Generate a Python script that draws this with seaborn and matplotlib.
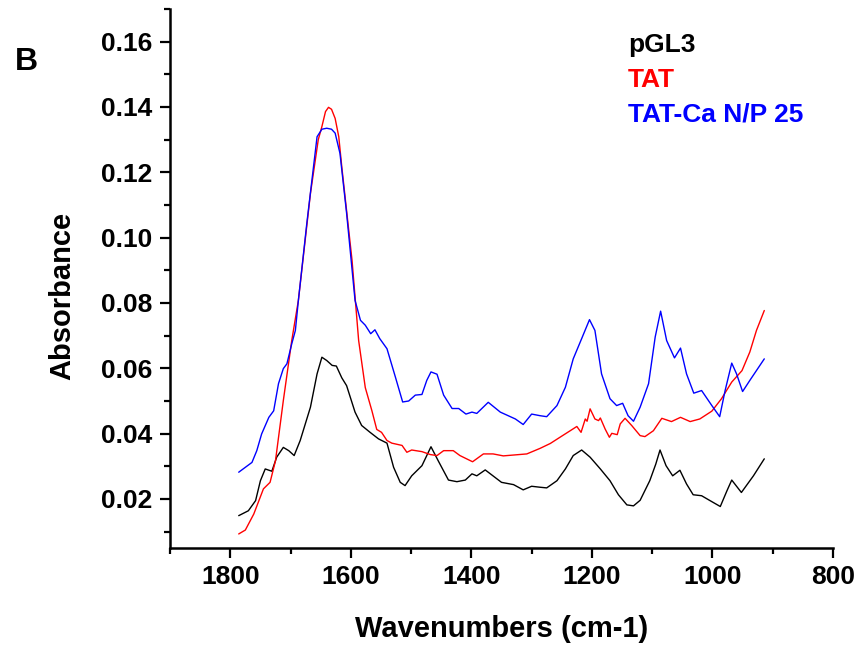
import matplotlib
matplotlib.use("Agg")
import matplotlib.pyplot as plt
from matplotlib.ticker import MultipleLocator, FormatStrFormatter
import seaborn as sns
import pandas as pd

# FTIR absorbance spectra (wavenumber in cm-1, absorbance)
pgl3_wn = [1786, 1770, 1758, 1750, 1742, 1731, 1723, 1712, 1703, 1694, 1684, 1667, 1656,
           1648, 1640, 1631, 1624, 1615, 1607, 1593, 1582, 1568, 1554, 1540, 1529, 1518,
           1510, 1499, 1482, 1467, 1455, 1438, 1424, 1410, 1399, 1391, 1377, 1350, 1330,
           1314, 1300, 1286, 1275, 1258, 1244, 1231, 1217, 1203, 1186, 1170, 1156, 1142,
           1131, 1120, 1104, 1094, 1087, 1077, 1066, 1054, 1043, 1032, 1018, 1004, 987,
           976, 968, 952, 932, 914]
pgl3_abs = [0.0149, 0.0164, 0.0195, 0.0256, 0.0292, 0.0285, 0.0328, 0.0358, 0.0348, 0.0333,
            0.0379, 0.0481, 0.0583, 0.0634, 0.0624, 0.0609, 0.0607, 0.0571, 0.0547, 0.0466,
            0.0425, 0.0404, 0.0384, 0.0371, 0.0297, 0.0251, 0.0241, 0.0271, 0.0302, 0.0360,
            0.0317, 0.0258, 0.0253, 0.0258, 0.0277, 0.0271, 0.0289, 0.0251, 0.0244, 0.0228,
            0.0239, 0.0236, 0.0234, 0.0256, 0.0292, 0.0333, 0.0350, 0.0328, 0.0292, 0.0256,
            0.0213, 0.0182, 0.0179, 0.0196, 0.0256, 0.0307, 0.0350, 0.0302, 0.0271, 0.0288,
            0.0246, 0.0213, 0.0210, 0.0195, 0.0177, 0.0225, 0.0258, 0.0220, 0.0271, 0.0323]

tat_wn = [1786, 1775, 1761, 1745, 1734, 1725, 1712, 1698, 1687, 1667, 1654, 1648, 1642,
          1637, 1632, 1626, 1620, 1615, 1598, 1587, 1576, 1565, 1557, 1549, 1540, 1532,
          1515, 1507, 1499, 1482, 1468, 1457, 1446, 1430, 1419, 1398, 1380, 1364, 1347,
          1308, 1286, 1269, 1253, 1236, 1225, 1218, 1211, 1208, 1203, 1195, 1189, 1186,
          1178, 1171, 1167, 1158, 1153, 1145, 1134, 1120, 1112, 1098, 1084, 1068, 1053,
          1037, 1021, 1001, 985, 968, 951, 938, 927, 914]
tat_abs = [0.0093, 0.0105, 0.0154, 0.0231, 0.0251, 0.0317, 0.0501, 0.0685, 0.0808, 0.1135,
           0.1300, 0.1340, 0.1386, 0.1399, 0.1393, 0.1365, 0.1309, 0.1217, 0.0931, 0.0685,
           0.0541, 0.0470, 0.0413, 0.0404, 0.0379, 0.0371, 0.0364, 0.0343, 0.0350, 0.0345,
           0.0336, 0.0333, 0.0348, 0.0348, 0.0333, 0.0314, 0.0338, 0.0338, 0.0332, 0.0338,
           0.0355, 0.0370, 0.0389, 0.0409, 0.0422, 0.0404, 0.0445, 0.0438, 0.0476, 0.0445,
           0.0440, 0.0448, 0.0414, 0.0389, 0.0401, 0.0397, 0.0430, 0.0447, 0.0425, 0.0394,
           0.0391, 0.0409, 0.0447, 0.0437, 0.0450, 0.0437, 0.0445, 0.0469, 0.0507, 0.0558,
           0.0593, 0.0650, 0.0716, 0.0777]

tatca_wn = [1786, 1775, 1764, 1756, 1748, 1736, 1728, 1720, 1712, 1706, 1698, 1692, 1687,
            1673, 1656, 1648, 1640, 1632, 1626, 1618, 1607, 1593, 1584, 1576, 1567, 1560,
            1552, 1540, 1526, 1514, 1504, 1493, 1482, 1474, 1467, 1457, 1446, 1432, 1421,
            1409, 1399, 1391, 1372, 1352, 1327, 1314, 1300, 1286, 1275, 1258, 1244, 1231,
            1217, 1204, 1195, 1184, 1170, 1159, 1149, 1140, 1131, 1120, 1106, 1095, 1086,
            1076, 1063, 1053, 1043, 1031, 1018, 1001, 988, 979, 968, 960, 950, 938, 914]
tatca_abs = [0.0282, 0.0297, 0.0312, 0.0348, 0.0399, 0.0450, 0.0470, 0.0553, 0.0599, 0.0614,
             0.0675, 0.0716, 0.0808, 0.1044, 0.1309, 0.1332, 0.1335, 0.1332, 0.1320, 0.1258,
             0.1075, 0.0808, 0.0747, 0.0732, 0.0706, 0.0718, 0.0691, 0.0660, 0.0573, 0.0497,
             0.0500, 0.0518, 0.0520, 0.0563, 0.0589, 0.0582, 0.0518, 0.0477, 0.0477, 0.0460,
             0.0466, 0.0462, 0.0496, 0.0466, 0.0445, 0.0428, 0.0460, 0.0455, 0.0452, 0.0486,
             0.0542, 0.0629, 0.0691, 0.0749, 0.0716, 0.0583, 0.0507, 0.0486, 0.0493, 0.0455,
             0.0438, 0.0481, 0.0553, 0.0696, 0.0775, 0.0685, 0.0632, 0.0662, 0.0583, 0.0524,
             0.0532, 0.0486, 0.0452, 0.0532, 0.0616, 0.0583, 0.0529, 0.0563, 0.0629]

series_names = ["pGL3", "TAT", "TAT-Ca N/P 25"]
series_colors = ["#000000", "#ff0000", "#0000ff"]

frames = []
for name, wn, ab in zip(series_names,
                        [pgl3_wn, tat_wn, tatca_wn],
                        [pgl3_abs, tat_abs, tatca_abs]):
    frames.append(pd.DataFrame({"wn": wn, "abs": ab, "sample": name}))
df = pd.concat(frames, ignore_index=True)

sns.set_style("ticks")
plt.rcParams["font.family"] = ["Liberation Sans", "DejaVu Sans"]
plt.rcParams["font.weight"] = "bold"
plt.rcParams["text.color"] = "black"
plt.rcParams["axes.labelcolor"] = "black"
plt.rcParams["xtick.color"] = "black"
plt.rcParams["ytick.color"] = "black"

fig = plt.figure(figsize=(8.63, 6.49), dpi=100)
ax = fig.add_axes([170 / 863, 1 - 548 / 649, (833 - 170) / 863, (548 - 9) / 649])

sns.lineplot(data=df, x="wn", y="abs", hue="sample", hue_order=series_names,
             palette=series_colors, estimator=None, linewidth=1.0, legend=False, ax=ax)

ax.set_xlim(1900, 800)
ax.set_ylim(0.005, 0.17)
ax.xaxis.set_major_locator(MultipleLocator(200))
ax.xaxis.set_minor_locator(MultipleLocator(100))
ax.yaxis.set_major_locator(MultipleLocator(0.02))
ax.yaxis.set_minor_locator(MultipleLocator(0.01))
ax.yaxis.set_major_formatter(FormatStrFormatter("%.2f"))

for side in ["top", "right"]:
    ax.spines[side].set_visible(False)
for side in ["left", "bottom"]:
    ax.spines[side].set_linewidth(1.8)
    ax.spines[side].set_color("black")

ax.tick_params(which="major", direction="out", length=7.5, width=1.6,
               labelsize=19, pad=5, colors="black")
ax.tick_params(which="minor", direction="out", length=4.5, width=1.6, colors="black")
for lbl in ax.get_xticklabels() + ax.get_yticklabels():
    lbl.set_fontweight("bold")

ax.set_xlabel("Wavenumbers (cm-1)", fontsize=21, fontweight="bold", color="black")
ax.set_ylabel("Absorbance", fontsize=21, fontweight="bold", color="black")
ax.xaxis.set_label_coords(0.5, -0.125)
ax.yaxis.set_label_coords(-0.142, 0.4675)

handles = ax.get_lines()[:3]
leg = ax.legend(handles, series_names, loc="upper left",
                bbox_to_anchor=(628 / 863, 1 - 33 / 649), bbox_transform=fig.transFigure,
                frameon=False, handlelength=0, handletextpad=0, borderpad=0,
                borderaxespad=0, labelspacing=0.41, labelcolor="linecolor",
                prop={"size": 19, "weight": "bold"})
for h in leg.legend_handles:
    h.set_visible(False)

fig.text(15 / 863, 1 - 70 / 649, "B", fontsize=23, fontweight="bold",
         color="black", ha="left", va="baseline")

fig.savefig("out.png", dpi=100)
